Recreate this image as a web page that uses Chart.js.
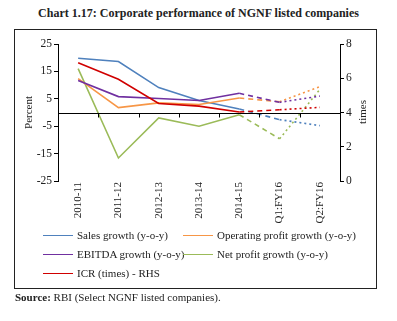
<!DOCTYPE html>
<html>
<head>
<meta charset="utf-8">
<script src="https://cdn.jsdelivr.net/npm/chart.js@4.4.1/dist/chart.umd.min.js"></script>
<style>
  html, body { margin: 0; padding: 0; background: #ffffff; }
  body { width: 397px; height: 321px; position: relative; overflow: hidden; font-family: 'Liberation Serif', serif; color: #222; }
  #title { position: absolute; left: 0; top: 6px; width: 397px; text-align: center; font-weight: bold; font-size: 12px; }
  #box { position: absolute; left: 14px; top: 29px; width: 361px; height: 258px; border: 1.5px solid #222; }
  #cv { position: absolute; left: 0; top: 0; }
  #legend { position: absolute; left: 0; top: 0; width: 397px; height: 321px; pointer-events: none; }
  .li { position: absolute; font-size: 11px; white-space: nowrap; display: flex; align-items: center; }
  .li span.sw { display: inline-block; width: 30px; height: 0; border-top: 1.5px solid; margin-right: 4px; }
  #source { position: absolute; left: 15px; top: 291px; font-size: 11px; }
  #rtitle { position: absolute; left: 338px; top: 105px; width: 50px; text-align: center; font-size: 11px; transform: rotate(-90deg); transform-origin: 25px 7px; }
</style>
</head>
<body>
<div id="title">Chart 1.17: Corporate performance of NGNF listed companies</div>
<div id="box"></div>
<canvas id="cv" width="397" height="321"></canvas>
<div id="legend"></div>
<div id="rtitle">times</div>
<div id="source"><b>Source:</b> RBI (Select NGNF listed companies).</div>
<script>
const categories = ['2010-11', '2011-12', '2012-13', '2013-14', '2014-15', 'Q1:FY16', 'Q2:FY16'];
const salesGrowth = [19.8, 18.6, 9.1, 4.4, 1.3, -2.6, -4.8];
const operatingProfitGrowth = [12.4, 1.8, 3.5, 2.9, 5.3, 3.9, 9.4];
const ebitdaGrowth = [11.7, 5.8, 5.1, 4.4, 7.0, 3.7, 6.0];
const netProfitGrowth = [16.0, -16.6, -2.0, -5.0, -0.8, -9.6, 8.4];
const icrTimes = [6.9, 5.94, 4.53, 4.37, 4.03, 4.16, 4.3];
const leftTicks = [-25, -15, -5, 5, 15, 25];
const rightTicks = [0, 2, 4, 6, 8];

const seriesNames = ['Sales growth (y-o-y)', 'Operating profit growth (y-o-y)', 'EBITDA growth (y-o-y)', 'Net profit growth (y-o-y)', 'ICR (times) - RHS'];
const colors = ['#4F81BD', '#F79646', '#7030A0', '#9BBB59', '#D00000'];
const seriesData = [salesGrowth, operatingProfitGrowth, ebitdaGrowth, netProfitGrowth, icrTimes];

const FONT = "'Liberation Serif', serif";
const segDash = ctx => {
  const i = ctx.p0DataIndex;
  if (i === 4) return [5, 4];
  if (i === 5) return [2, 3];
  return undefined;
};

const datasets = seriesData.map((d, k) => ({
  label: seriesNames[k],
  data: d,
  borderColor: colors[k],
  backgroundColor: colors[k],
  borderWidth: 1.6,
  pointRadius: 0,
  tension: 0,
  fill: false,
  yAxisID: k === 4 ? 'y2' : 'y',
  segment: { borderDash: segDash },
  order: [3, 2, 1, 4, 0][k]
}));

const zeroAxis = {
  id: 'zeroAxis',
  afterDatasetsDraw(chart) {
    const { ctx, chartArea, scales } = chart;
    const y0 = Math.round(scales.y.getPixelForValue(0)) + 0.5;
    ctx.save();
    ctx.strokeStyle = '#000';
    ctx.lineWidth = 1;
    ctx.beginPath();
    ctx.moveTo(chartArea.left, y0);
    ctx.lineTo(chartArea.right, y0);
    for (let i = 1; i < categories.length; i++) {
      const x = Math.round((scales.x.getPixelForValue(i - 1) + scales.x.getPixelForValue(i)) / 2) + 0.5;
      ctx.moveTo(x, y0);
      ctx.lineTo(x, y0 + 4);
    }
    ctx.stroke();
    ctx.restore();
  }
};

new Chart(document.getElementById('cv'), {
  type: 'line',
  data: { labels: categories, datasets },
  plugins: [zeroAxis],
  options: {
    responsive: false,
    animation: false,
    devicePixelRatio: 1,
    layout: { padding: { left: 20, right: 22, top: 44, bottom: 90 } },
    plugins: { legend: { display: false }, tooltip: { enabled: false }, title: { display: false } },
    scales: {
      x: {
        type: 'category',
        offset: true,
        grid: { display: false },
        border: { display: false },
        ticks: { color: '#222', font: { family: FONT, size: 11 }, minRotation: 90, maxRotation: 90, padding: -7, autoSkip: false },
        afterFit(s) { s.height = 50; }
      },
      y: {
        position: 'left',
        min: -25, max: 25,
        afterBuildTicks(s) { s.ticks = leftTicks.map(v => ({ value: v })); },
        grid: { drawOnChartArea: false, tickLength: 4, color: '#000', tickColor: '#000' },
        border: { display: true, color: '#000', width: 1 },
        ticks: { color: '#222', font: { family: FONT, size: 11.5 }, padding: 2 },
        title: { display: true, text: 'Percent', color: '#222', font: { family: FONT, size: 11 }, padding: 3 },
        afterFit(s) { s.width = 38; }
      },
      y2: {
        position: 'right',
        min: 0, max: 8,
        afterBuildTicks(s) { s.ticks = rightTicks.map(v => ({ value: v })); },
        grid: { drawOnChartArea: false, tickLength: 4, color: '#000', tickColor: '#000' },
        border: { display: true, color: '#000', width: 1 },
        ticks: { color: '#222', font: { family: FONT, size: 11.5 }, padding: 2 },
        title: { display: false },
        afterFit(s) { s.width = 35; }
      }
    }
  }
});

// HTML legend built from the datasets
const legendPos = [[43, 236], [183, 236], [43, 255], [183, 255], [43, 274]];
const lg = document.getElementById('legend');
seriesNames.forEach((n, k) => {
  const el = document.createElement('div');
  el.className = 'li';
  el.style.left = legendPos[k][0] + 'px';
  el.style.top = (legendPos[k][1] - 7) + 'px';
  el.innerHTML = '<span class="sw" style="border-color:' + colors[k] + '"></span>' + n;
  lg.appendChild(el);
});
</script>
</body>
</html>
